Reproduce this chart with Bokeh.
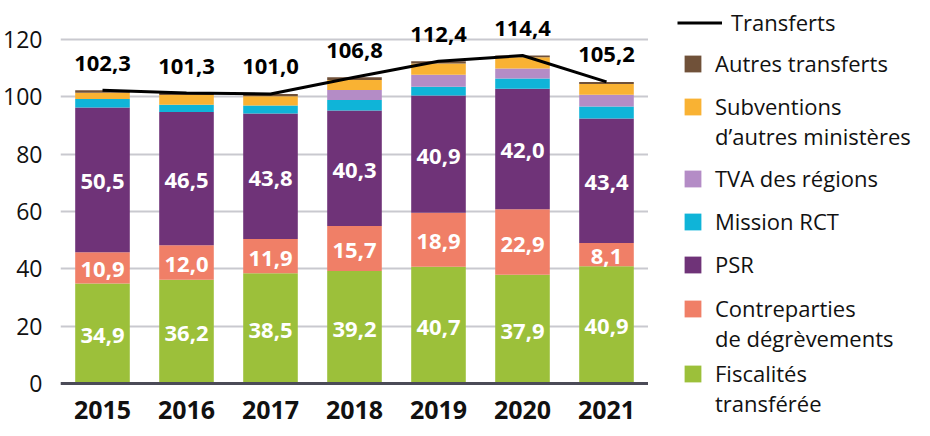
from bokeh.plotting import figure
from bokeh.layouts import row
from bokeh.models import ColumnDataSource, Range1d, FactorRange, Legend, LegendItem, FixedTicker, Span
from bokeh.core.properties import value
from bokeh.embed import file_html
from bokeh.resources import INLINE

# ---- data (Md€) ----
years = ["2015", "2016", "2017", "2018", "2019", "2020", "2021"]
fiscalites = [34.9, 36.2, 38.5, 39.2, 40.7, 37.9, 40.9]
contreparties = [10.9, 12.0, 11.9, 15.7, 18.9, 22.9, 8.1]
psr = [50.5, 46.5, 43.8, 40.3, 40.9, 42.0, 43.4]
mission_rct = [2.9, 2.5, 2.8, 3.7, 3.0, 3.6, 4.2]
tva_regions = [0.0, 0.0, 0.0, 3.5, 4.2, 3.5, 4.1]
subventions = [2.2, 3.4, 3.2, 3.5, 3.9, 3.9, 3.8]
autres = [0.9, 0.7, 0.8, 0.9, 0.8, 0.6, 0.7]
transferts = [102.3, 101.3, 101.0, 106.8, 112.4, 114.4, 105.2]
y_ticks = [0, 20, 40, 60, 80, 100, 120]

series_keys = ["fiscalites", "contreparties", "psr", "mission_rct", "tva_regions", "subventions", "autres"]
series_names = [["Fiscalités", "transférée"], ["Contreparties", "de dégrèvements"], ["PSR"], ["Mission RCT"],
                ["TVA des régions"], ["Subventions", "d’autres ministères"], ["Autres transferts"]]
colors = ["#9cc03a", "#f07f67", "#6f3378", "#0fb4d8", "#b48cc6", "#f9b233", "#705139"]

FONT = "Open Sans"
H = 426
NAN = float("nan")

def fmt(v):
    return f"{v:.1f}".replace(".", ",")

src = ColumnDataSource(dict(
    year=years, fiscalites=fiscalites, contreparties=contreparties, psr=psr,
    mission_rct=mission_rct, tva_regions=tva_regions, subventions=subventions, autres=autres,
))

p = figure(x_range=FactorRange(*years), y_range=Range1d(-15.0, 133.6),
           width=648, height=H, x_axis_location=None,
           min_border_left=52, min_border_right=0, min_border_top=0, min_border_bottom=0,
           output_backend="svg", toolbar_location=None)
p.outline_line_color = None
p.background_fill_color = "white"

# grid
p.xgrid.grid_line_color = None
p.ygrid.grid_line_color = "#c9c9cf"
p.ygrid.grid_line_width = 2
p.ygrid.ticker = FixedTicker(ticks=y_ticks)

bars = p.vbar_stack(series_keys, x="year", width=0.65, source=src, color=colors, line_color=None)

line_r = p.line(x=years, y=transferts, line_color="black", line_width=3)

# baseline (x axis line)
p.add_layout(Span(location=0, dimension="width", line_color="#4b4b57", line_width=3))

# category labels under the baseline
p.text(x=years, y=[0] * len(years), text=years, y_offset=27,
       text_color="#111111", text_font=value(FONT), text_font_style="bold", text_font_size="25px",
       text_align="center", text_baseline="middle")

# segment labels for the three bottom series
bottoms = [0.0] * len(years)
for vals in (fiscalites, contreparties, psr):
    mids = [b + v / 2 for b, v in zip(bottoms, vals)]
    p.text(x=years, y=mids, text=[fmt(v) for v in vals], text_color="white",
           text_font=value(FONT), text_font_style="bold", text_font_size="22px",
           text_align="center", text_baseline="middle", y_offset=2)
    bottoms = [b + v for b, v in zip(bottoms, vals)]

# totals
p.text(x=years, y=transferts, text=[fmt(v) for v in transferts], y_offset=-27,
       text_color="black", text_font=value(FONT), text_font_style="bold", text_font_size="22px",
       text_align="center", text_baseline="middle")

# y axis
p.yaxis.ticker = FixedTicker(ticks=y_ticks)
p.yaxis.axis_line_color = None
p.yaxis.major_tick_line_color = None
p.yaxis.minor_tick_line_color = None
p.yaxis.major_label_text_font = FONT
p.yaxis.major_label_text_font_size = "23px"
p.yaxis.major_label_text_color = "#111111"
p.yaxis.major_label_standoff = 12

# ---- legend panel (separate figure, invisible proxy glyphs) ----
q = figure(width=266, height=H, x_range=Range1d(0, 1), y_range=Range1d(0, 1),
           min_border_left=0, min_border_right=0, min_border_top=0, min_border_bottom=0,
           output_backend="svg", toolbar_location=None)
q.axis.visible = False
q.grid.visible = False
q.outline_line_color = None

line_proxy = q.line(x=[NAN], y=[NAN], line_color="black", line_width=3)
bar_proxies = [q.vbar(x=[NAN], top=[NAN], width=0.5, fill_color=c, line_color=None) for c in colors]
blank_proxy = q.vbar(x=[NAN], top=[NAN], width=0.5, fill_alpha=0, line_alpha=0)

def make_legend(items, loc, glyph_w=21, standoff=12, spacing=13):
    leg = Legend(items=items, location=loc, glyph_width=glyph_w, glyph_height=21,
                 label_standoff=standoff, padding=0, margin=0, spacing=spacing,
                 background_fill_alpha=0, border_line_color=None,
                 label_text_font=FONT, label_text_font_size="22px", label_text_color="#111111")
    q.add_layout(leg)
    return leg

def series_items(i):
    lines = series_names[i]
    its = [LegendItem(label=lines[0], renderers=[bar_proxies[i]])]
    its += [LegendItem(label=t, renderers=[blank_proxy]) for t in lines[1:]]
    return its

make_legend([LegendItem(label="Transferts", renderers=[line_proxy])], (29, 389), glyph_w=45, standoff=9)
make_legend(series_items(6), (34, 348))
make_legend(series_items(5), (34, 275), spacing=0)
make_legend(series_items(4) + series_items(3) + series_items(2), (34, 147))
make_legend(series_items(1), (34, 73), spacing=-2)
make_legend(series_items(0), (34, 8), spacing=0)

open("out.html", "w").write(file_html(row(p, q), INLINE))
